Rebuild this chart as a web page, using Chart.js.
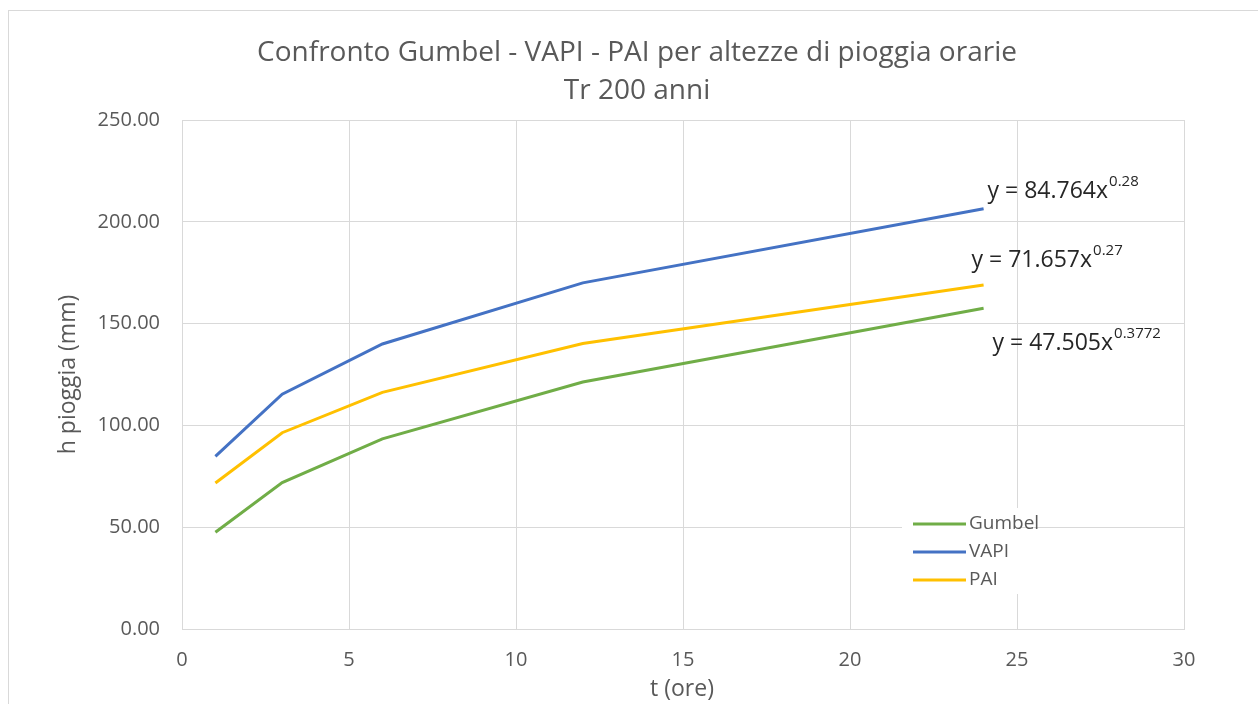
<!DOCTYPE html>
<html><head><meta charset="utf-8">
<script src="https://cdn.jsdelivr.net/npm/chart.js@4.4.0/dist/chart.umd.min.js"></script>
<style>html,body{margin:0;padding:0;background:#fff;}#wrap{width:1258px;height:704px;position:relative;}</style>
</head><body><div id="wrap"><canvas id="c" width="1258" height="704"></canvas></div>
<script>
const durations = [1, 3, 6, 12, 24];
const gumbel = [47.5, 71.9, 93.4, 121.3, 157.5];
const vapi = [84.8, 115.3, 140.0, 170.0, 206.4];
const pai = [71.7, 96.4, 116.2, 140.2, 169.0];
const seriesNames = ['Gumbel', 'VAPI', 'PAI'];
const trendLabels = [['y = 47.505x', '0.3772'], ['y = 84.764x', '0.28'], ['y = 71.657x', '0.27']];
const titleLines = ['Confronto Gumbel - VAPI - PAI per altezze di pioggia orarie', 'Tr 200 anni'];
const xTitle = 't (ore)';
const yTitle = 'h pioggia (mm)';

const FONT = '"Open Sans", "Liberation Sans", sans-serif';
const TXT = '#595959';
const GRID = '#d9d9d9';

function pts(arr){ return durations.map((x,i)=>({x:x,y:arr[i]})); }

const deco = {
  id:'deco',
  beforeDraw(chart){
    const ctx = chart.ctx;
    ctx.save();
    ctx.fillStyle='#fff'; ctx.fillRect(0,0,chart.width,chart.height);
    ctx.strokeStyle=GRID; ctx.lineWidth=1;
    ctx.strokeRect(8.5,10.5,1400,900);
    ctx.restore();
  },
  afterDraw(chart){
    const ctx = chart.ctx;
    const xs = chart.scales.x, ys = chart.scales.y;
    ctx.save();
    ctx.fillStyle = TXT;
    ctx.textAlign='center'; ctx.textBaseline='middle';
    ctx.font = '28px ' + FONT;
    ctx.fillText(titleLines[0], 637, 53);
    ctx.fillText(titleLines[1], 637, 91);
    ctx.font = '23px ' + FONT;
    ctx.fillText(xTitle, 682, 689);
    ctx.save();
    ctx.translate(68, (ys.top+ys.bottom)/2);
    ctx.rotate(-Math.PI/2);
    ctx.fillText(yTitle, 0, 0);
    ctx.restore();
    // trendline equations
    const offs = [[9, 35], [4, -17], [-12, -24]];
    const ds = chart.data.datasets;
    ctx.fillStyle = '#262626';
    ctx.textAlign='left';
    ds.forEach((d,i)=>{
      const last = d.data[d.data.length-1];
      const px = xs.getPixelForValue(last.x) + offs[i][0];
      const py = ys.getPixelForValue(last.y) + offs[i][1];
      ctx.font = '23px ' + FONT;
      ctx.fillText(trendLabels[i][0], px, py);
      const w = ctx.measureText(trendLabels[i][0]).width;
      ctx.font = '15px ' + FONT;
      ctx.fillText(trendLabels[i][1], px + w + 1, py - 10);
    });
    // legend
    ctx.fillStyle='#fff';
    ctx.fillRect(902, 508, 118, 86);
    ds.forEach((d,i)=>{
      const y = 524 + i*28;
      ctx.strokeStyle = d.borderColor; ctx.lineWidth = 3;
      ctx.beginPath(); ctx.moveTo(913, y); ctx.lineTo(966, y); ctx.stroke();
      ctx.fillStyle = TXT; ctx.font = '19px ' + FONT;
      ctx.textAlign='left';
      ctx.fillText(d.label, 969, y);
    });
    ctx.restore();
  }
};

new Chart(document.getElementById('c'), {
  type:'line',
  data:{datasets:[
    {label:seriesNames[0], data:pts(gumbel), borderColor:'#70AD47', backgroundColor:'#70AD47', borderWidth:3, pointRadius:0, tension:0},
    {label:seriesNames[1], data:pts(vapi), borderColor:'#4472C4', backgroundColor:'#4472C4', borderWidth:3, pointRadius:0, tension:0},
    {label:seriesNames[2], data:pts(pai), borderColor:'#FFC000', backgroundColor:'#FFC000', borderWidth:3, pointRadius:0, tension:0}
  ]},
  options:{
    responsive:false, animation:false,
    layout:{padding:{left:0,top:120,right:74,bottom:0}},
    plugins:{legend:{display:false}, title:{display:false}, tooltip:{enabled:false}},
    scales:{
      x:{type:'linear', min:0, max:30,
        ticks:{stepSize:5, color:TXT, font:{size:20, family:FONT}, padding:19, maxRotation:0},
        grid:{color:GRID, lineWidth:1, drawTicks:false},
        border:{color:GRID},
        afterFit(s){ s.height = 75; }
      },
      y:{min:0, max:250,
        ticks:{stepSize:50, color:TXT, font:{size:20, family:FONT}, padding:22, callback:v=>v.toFixed(2)},
        grid:{color:GRID, lineWidth:1, drawTicks:false},
        border:{color:GRID},
        afterFit(s){ s.width = 182; }
      }
    }
  },
  plugins:[deco]
});
</script></body></html>
